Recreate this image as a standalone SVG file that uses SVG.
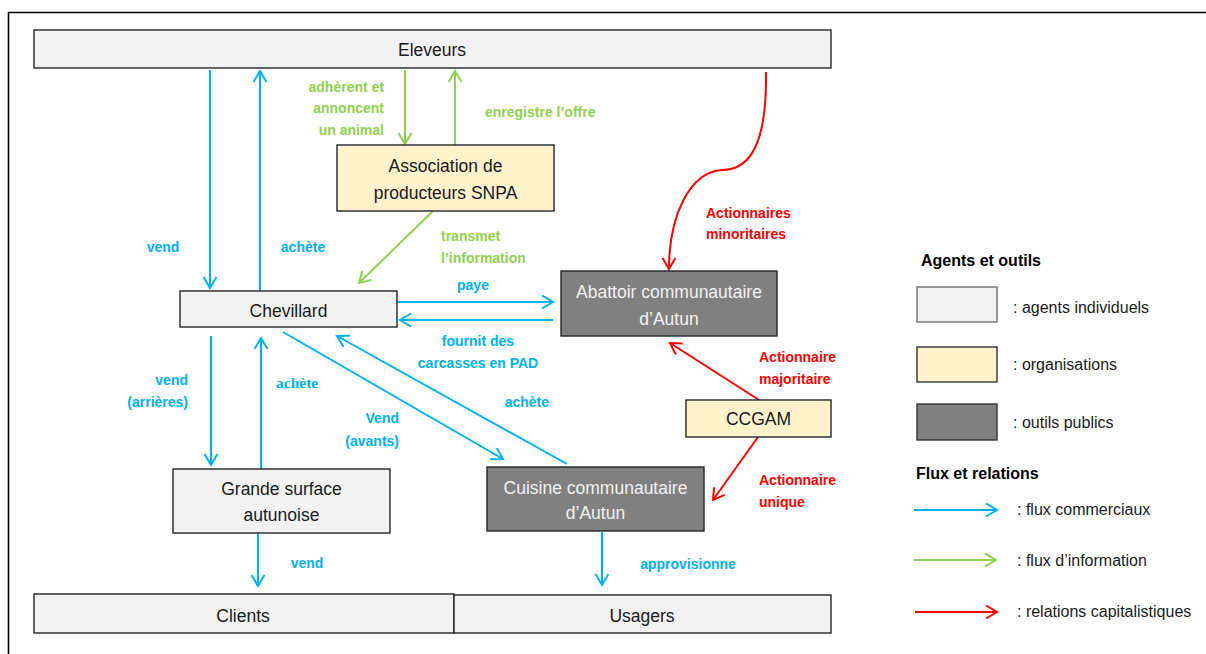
<svg xmlns="http://www.w3.org/2000/svg" width="1206" height="654" viewBox="0 0 1206 654">
<defs>
<style>
.n{stroke:#262626;stroke-width:1.4}
.ind{fill:#f2f2f2}
.org{fill:#fff2cc}
.pub{fill:#808080}
.t{font-family:"Liberation Sans",Arial,sans-serif;font-size:17.5px;fill:#1a1a1a;text-anchor:middle}
.tw{fill:#f2f2f2}
.lb{font-family:"Liberation Sans",Arial,sans-serif;font-size:14px;font-weight:bold}
.b{fill:#00b0f0}
.g{fill:#92d050}
.r{fill:#ff0000}
.cb{stroke:#00b0f0;stroke-width:2;fill:none}
.cg{stroke:#92d050;stroke-width:2;fill:none}
.cr{stroke:#ff0000;stroke-width:2;fill:none}
.lt{font-family:"Liberation Sans",Arial,sans-serif;font-size:16px;fill:#1a1a1a}
.lh{font-family:"Liberation Sans",Arial,sans-serif;font-size:16px;font-weight:bold;fill:#000}
</style>
<marker id="mb" markerWidth="14" markerHeight="16" refX="12" refY="7" orient="auto" markerUnits="userSpaceOnUse"><path d="M1,0.5 L12,7 L1,13.5" fill="none" stroke="#00b0f0" stroke-width="2"/></marker>
<marker id="mg" markerWidth="14" markerHeight="16" refX="12" refY="7" orient="auto" markerUnits="userSpaceOnUse"><path d="M1,0.5 L12,7 L1,13.5" fill="none" stroke="#92d050" stroke-width="2"/></marker>
<marker id="mr" markerWidth="14" markerHeight="16" refX="12" refY="7" orient="auto" markerUnits="userSpaceOnUse"><path d="M1,0.5 L12,7 L1,13.5" fill="none" stroke="#ff0000" stroke-width="2"/></marker>
</defs>
<rect width="1206" height="654" fill="#fff"/>
<path d="M8.5,654 V12.5 H1206" fill="none" stroke="#000" stroke-width="1.6"/>

<g id="connectors">
<line class="cb" x1="210" y1="70" x2="210" y2="288" marker-end="url(#mb)"/>
<line class="cb" x1="260" y1="291" x2="260" y2="71" marker-end="url(#mb)"/>
<line class="cg" x1="405" y1="70" x2="405" y2="144" marker-end="url(#mg)"/>
<line class="cg" x1="455" y1="145" x2="455" y2="71" marker-end="url(#mg)"/>
<line class="cg" x1="433" y1="211" x2="359" y2="283" marker-end="url(#mg)"/>
<line class="cb" x1="397" y1="302" x2="553" y2="302" marker-end="url(#mb)"/>
<line class="cb" x1="553" y1="320" x2="400" y2="320" marker-end="url(#mb)"/>
<path class="cr" d="M766,72 C767,140 752,170 722,170 C690,172 669,215 669,269" marker-end="url(#mr)"/>
<line class="cr" x1="759" y1="400" x2="670" y2="343" marker-end="url(#mr)"/>
<line class="cr" x1="758" y1="437" x2="713" y2="500" marker-end="url(#mr)"/>
<line class="cb" x1="211" y1="336" x2="211" y2="465" marker-end="url(#mb)"/>
<line class="cb" x1="261" y1="469" x2="261" y2="338" marker-end="url(#mb)"/>
<line class="cb" x1="283" y1="332" x2="503" y2="459" marker-end="url(#mb)"/>
<line class="cb" x1="567" y1="464" x2="337" y2="336" marker-end="url(#mb)"/>
<line class="cb" x1="258" y1="533" x2="258" y2="586" marker-end="url(#mb)"/>
<line class="cb" x1="602" y1="532" x2="602" y2="585" marker-end="url(#mb)"/>
</g>

<g id="labels">
<text class="lb g" text-anchor="end"><tspan x="384" y="92">adhèrent et</tspan><tspan x="384" y="113">annoncent</tspan><tspan x="384" y="135">un animal</tspan></text>
<text class="lb g" x="485" y="117">enregistre l’offre</text>
<text class="lb g"><tspan x="441" y="241">transmet</tspan><tspan x="441" y="263">l’information</tspan></text>
<text class="lb b" x="163" y="252" text-anchor="middle">vend</text>
<text class="lb b" x="303" y="252" text-anchor="middle">achète</text>
<text class="lb b" x="473" y="290" text-anchor="middle">paye</text>
<text class="lb b" text-anchor="middle"><tspan x="478" y="346">fournit des</tspan><tspan x="478" y="368">carcasses en PAD</tspan></text>
<text class="lb r"><tspan x="706" y="218">Actionnaires</tspan><tspan x="706" y="239">minoritaires</tspan></text>
<text class="lb r"><tspan x="759" y="362">Actionnaire</tspan><tspan x="759" y="384">majoritaire</tspan></text>
<text class="lb r"><tspan x="759" y="485">Actionnaire</tspan><tspan x="759" y="507">unique</tspan></text>
<text class="lb b" text-anchor="end"><tspan x="188" y="385">vend</tspan><tspan x="188" y="407">(arrières)</tspan></text>
<text class="b" x="276" y="388" font-family="'Liberation Serif','Times New Roman',serif" font-size="15.5" font-weight="bold">achète</text>
<text class="lb b" text-anchor="end"><tspan x="399" y="423">Vend</tspan><tspan x="399" y="446">(avants)</tspan></text>
<text class="lb b" x="549" y="407" text-anchor="end">achète</text>
<text class="lb b" x="307" y="568" text-anchor="middle">vend</text>
<text class="lb b" x="688" y="569" text-anchor="middle">approvisionne</text>
</g>

<g id="eleveurs"><rect class="n ind" x="34" y="30" width="797" height="38"/><text class="t" x="432" y="56">Eleveurs</text></g>
<g id="snpa"><rect class="n org" x="337" y="145" width="217" height="66"/><text class="t"><tspan x="445.5" y="172">Association de</tspan><tspan x="445.5" y="199">producteurs SNPA</tspan></text></g>
<g id="abattoir"><rect class="n pub" x="561" y="271" width="216" height="65"/><text class="t tw"><tspan x="669" y="298">Abattoir communautaire</tspan><tspan x="669" y="325">d’Autun</tspan></text></g>
<g id="chevillard"><rect class="n ind" x="180" y="291" width="217" height="36"/><text class="t" x="288.5" y="317">Chevillard</text></g>
<g id="ccgam"><rect class="n org" x="686" y="400" width="145" height="37"/><text class="t" x="758.5" y="425">CCGAM</text></g>
<g id="grande-surface"><rect class="n ind" x="173" y="469" width="217" height="64"/><text class="t"><tspan x="281.5" y="495">Grande surface</tspan><tspan x="281.5" y="521">autunoise</tspan></text></g>
<g id="cuisine"><rect class="n pub" x="487" y="467" width="217" height="64"/><text class="t tw"><tspan x="595.5" y="494">Cuisine communautaire</tspan><tspan x="595.5" y="519">d’Autun</tspan></text></g>
<g id="clients"><rect class="n ind" x="34" y="594" width="420" height="39"/><text class="t" x="243" y="622">Clients</text></g>
<g id="usagers"><rect class="n ind" x="454" y="595" width="377" height="38"/><text class="t" x="642" y="622">Usagers</text></g>

<g id="legend">
<text class="lh" x="921" y="266">Agents et outils</text>
<rect x="917" y="287" width="80" height="35" fill="#f2f2f2" stroke="#6e6e6e" stroke-width="1.4"/>
<text class="lt" x="1013" y="313">: agents individuels</text>
<rect x="917" y="347" width="80" height="35" fill="#fff2cc" stroke="#333" stroke-width="1.4"/>
<text class="lt" x="1013" y="370">: organisations</text>
<rect x="917" y="404" width="80" height="36" fill="#808080" stroke="#333" stroke-width="1.4"/>
<text class="lt" x="1013" y="428">: outils publics</text>
<text class="lh" x="916" y="479">Flux et relations</text>
<line class="cb" x1="914" y1="510" x2="997" y2="510" marker-end="url(#mb)"/>
<text class="lt" x="1017" y="515">: flux commerciaux</text>
<line class="cg" x1="914" y1="560" x2="996" y2="560" marker-end="url(#mg)"/>
<text class="lt" x="1017" y="566">: flux d’information</text>
<line class="cr" x1="915" y1="612" x2="997" y2="612" marker-end="url(#mr)"/>
<text class="lt" x="1017" y="617">: relations capitalistiques</text>
</g>
</svg>
